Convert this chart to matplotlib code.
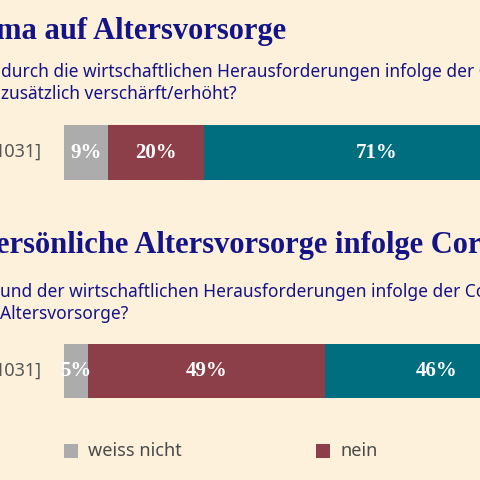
import matplotlib
matplotlib.use("Agg")
import matplotlib.pyplot as plt

categories = ["weiss nicht", "nein", "ja"]
top_values = [9, 20, 71]
bottom_values = [5, 49, 46]
colors = ["#acacac", "#8c3f49", "#006e7e"]
bg = "#fdf1dc"
navy = "#141486"

fig = plt.figure(figsize=(4.8, 4.8), dpi=100, facecolor=bg)
ax = fig.add_axes([0, 0, 1, 1])
ax.set_facecolor(bg)
scale = 4.84  # px per percent
ax.set_xlim(-64/scale, (480-64)/scale)
ax.set_ylim(480, 0)
ax.axis("off")

def draw_bar(values, yc, h):
    left = 0
    for v, c in zip(values, colors):
        ax.barh(yc, v, left=left, height=h, color=c, edgecolor="none")
        ax.text(left + v/2, yc, f"{v}%", ha="center", va="center", color="white",
                fontsize=15, fontweight="bold", family="Liberation Serif")
        left += v

draw_bar(top_values, 152.5, 55)
draw_bar(bottom_values, 371, 54)

def px(x):
    return (x - 64) / scale

ax.text(px(-4), 31, "ma auf Altersvorsorge", fontsize=22, fontweight="bold",
        family="Liberation Serif", color=navy, va="center", ha="left")
ax.text(px(-4), 246, "ersönliche Altersvorsorge infolge Corona", fontsize=22, fontweight="bold",
        family="Liberation Serif", color=navy, va="center", ha="left")
sub = dict(fontsize=12.5, family="Noto Sans", color=navy, va="center", ha="left")
ax.text(px(1), 72, "durch die wirtschaftlichen Herausforderungen infolge der Corona", **sub)
ax.text(px(1), 94, "zusätzlich verschärft/erhöht?", **sub)
ax.text(px(0), 292, "und der wirtschaftlichen Herausforderungen infolge der Corona", **sub)
ax.text(px(0), 314, "Altersvorsorge?", **sub)
lab = dict(fontsize=13, family="Noto Sans", color="#555555", va="center", ha="right")
ax.text(px(42), 152, "1031]", **lab)
ax.text(px(42), 371, "1031]", **lab)

leg_x = [64, 316]
for x0, c, name in zip(leg_x, colors[:2], categories[:2]):
    ax.barh(451, 14/scale, left=px(x0), height=14, color=c, edgecolor="none")
    ax.text(px(x0 + 24), 451, name, fontsize=13, family="Noto Sans", fontweight="semibold",
            color="#4a4a4a", va="center", ha="left")

fig.savefig("out.png", dpi=100, facecolor=bg)
